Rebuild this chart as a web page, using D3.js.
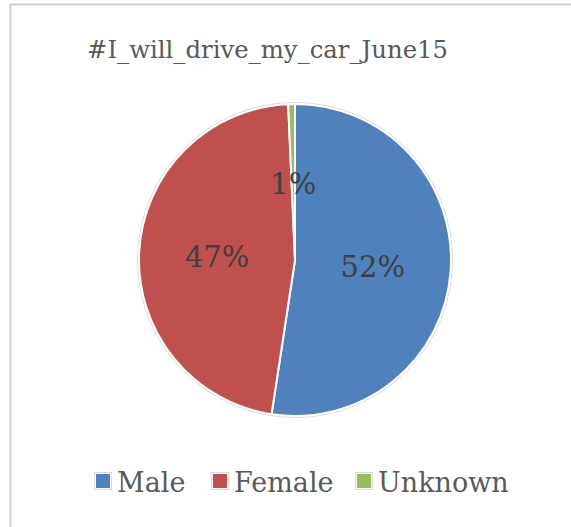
<!DOCTYPE html>
<html>
<head>
<meta charset="utf-8">
<script src="https://cdn.jsdelivr.net/npm/d3@7"></script>
<style>
  html, body { margin: 0; padding: 0; background: #ffffff; }
  svg { display: block; }
</style>
</head>
<body>
<svg id="chart" width="571" height="527"></svg>
<script>
// Gender breakdown of tweets for the hashtag
const title = "#I_will_drive_my_car_June15";
const categories = ["Male", "Female", "Unknown"];
const shares = [52.4, 46.9, 0.7];
const colors = ["#4F81BD", "#C0504D", "#9BBB59"];

const fontStack = "'DejaVu Serif', serif";
const width = 571, height = 527;
const svg = d3.select("#chart").attr("font-family", fontStack);

// chart area frame (continues past the right and bottom edges)
svg.append("rect")
  .attr("x", 10.5).attr("y", 4.5)
  .attr("width", 700).attr("height", 700)
  .attr("fill", "#ffffff")
  .attr("stroke", "#cfcfcf")
  .attr("stroke-width", 2);

// title
svg.append("text")
  .attr("x", 267.5).attr("y", 58)
  .attr("text-anchor", "middle")
  .attr("font-size", 25)
  .attr("fill", "#595959")
  .attr("textLength", 361)
  .attr("lengthAdjust", "spacingAndGlyphs")
  .text(title);

// pie
const cx = 295, cy = 260, r = 156;
const data = categories.map((c, i) => ({ name: c, value: shares[i], color: colors[i] }));
const pie = d3.pie().value(d => d.value).sort(null);
const arc = d3.arc().innerRadius(0).outerRadius(r);
const arcs = pie(data);

const g = svg.append("g").attr("transform", `translate(${cx},${cy})`);

// faint outline around the disc
g.append("circle")
  .attr("r", r + 1.5)
  .attr("fill", "none")
  .attr("stroke", "#d8d8d8")
  .attr("stroke-width", 1);

g.selectAll("path.slice")
  .data(arcs)
  .join("path")
  .attr("class", "slice")
  .attr("d", arc)
  .attr("fill", d => d.data.color)
  .attr("stroke", "#ffffff")
  .attr("stroke-width", 2)
  .attr("stroke-linejoin", "round");

// percentage labels at the slice centroids
const total = d3.sum(shares);
g.selectAll("text.pct")
  .data(arcs)
  .join("text")
  .attr("class", "pct")
  .attr("x", d => arc.centroid(d)[0])
  .attr("y", d => arc.centroid(d)[1])
  .attr("dy", "0.4em")
  .attr("text-anchor", "middle")
  .attr("font-size", 29)
  .attr("fill", "#404040")
  .text(d => Math.round(d.data.value / total * 100) + "%");

// legend
const legendX = [96, 213, 357];
const items = svg.append("g").selectAll("g.item")
  .data(data)
  .join("g")
  .attr("class", "item")
  .attr("transform", (d, i) => `translate(${legendX[i]},474)`);

items.append("rect")
  .attr("x", -1.5).attr("y", -1.5)
  .attr("width", 17).attr("height", 17)
  .attr("fill", "#ffffff")
  .attr("stroke", "#d9d9d9")
  .attr("stroke-width", 1);
items.append("rect")
  .attr("width", 14).attr("height", 14)
  .attr("fill", d => d.color);

items.append("text")
  .attr("x", 21).attr("y", 18)
  .attr("font-size", 27)
  .attr("fill", "#595959")
  .text(d => d.name);
</script>
</body>
</html>
